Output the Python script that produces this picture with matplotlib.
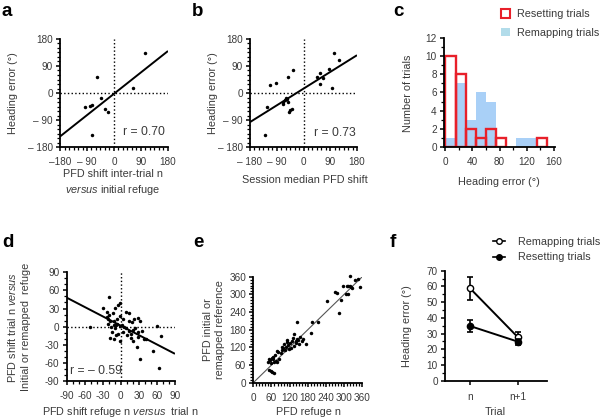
import matplotlib
matplotlib.use('Agg')
import matplotlib.pyplot as plt
from matplotlib.ticker import MultipleLocator
from matplotlib.patches import Patch
from matplotlib.lines import Line2D

plt.rcParams['font.family'] = ['Liberation Sans', 'DejaVu Sans']
plt.rcParams['mathtext.fontset'] = 'custom'
plt.rcParams['mathtext.rm'] = 'Liberation Sans'
plt.rcParams['mathtext.it'] = 'Liberation Sans:italic'
plt.rcParams['mathtext.bf'] = 'Liberation Sans:bold'

# ---------------- data ----------------
# panel a
a_x = [102, -58, 65, -43, -97, -81, -72, -31, -19, -74]
a_y = [133, 55, 18, -17, -45, -42, -41, -54, -64, -141]
a_fit_x = [-180, 180]
a_fit_y = [-145, 140]
a_r = "r = 0.70"

# panel b
b_x = [101, 118, -112, -93, -51, -34, 47, 55, 66, 57, 87, 97, -123, -128,
       -68, -62, -56, -70, -53, -45, -38, -50, -60]
b_y = [133, 109, 26, 34, 54, 76, 54, 67, 50, 29, 79, 18, -45, -141,
       -31, -23, -20, -38, -31, -55, -54, -64, -17]
b_fit_x = [-180, 180]
b_fit_y = [-97, 126]
b_r = "r = 0.73"

# panel c (histogram, 15 deg bins)
c_bin_left = [0, 15, 30, 45, 60, 75, 90, 105, 120, 135]
c_bin_width = 15
c_reset = [10, 8, 2, 1, 2, 1, 0, 0, 0, 1]
c_remap = [1, 7, 3, 6, 5, 0, 0, 1, 1, 0]

# panel d
d_x = [-19, -30, -51, -4, -1, -9, -13, -19, -23, -21, -18, -12, -7, -2, 4, 13,
       22, 28, 32, 14, 18, -12, -8, -6, -2, 2, 6, 9, 13, 17, 21, 24, 28, 35,
       29, 38, 41, 60, 66, 27, 32, 54, 64, -15, -8, -12, -18, -1, -4, -21, 4,
       10, 17, 20, -9, -17, -23, 8]
d_y = [49, 31, -1, 36, 39, 31, 23, 19, 16, 13, 9, 10, 13, 18, 13, 22,
       13, 14, 9, 10, 8, 3, 2, 4, 1, 2, -1, -3, -8, -12, -6, -2, -9, -8,
       -17, -21, -20, 1, -15, -33, -53, -40, -69, -9, -14, -20, -18, -23, -12, 5, -9,
       -14, -19, -23, -3, -1, 24, 24]
d_fit_x = [-90, 90]
d_fit_y = [48, -45]
d_r = "r = \u2013 0.59"

# panel e
e_x = [321, 336, 347, 352, 308, 313, 318, 322, 295, 269, 275, 242, 291, 284,
       215, 195, 190, 143, 134, 174, 154, 149, 141, 132, 129, 121, 116, 108,
       102, 110, 112, 99, 94, 96, 83, 77, 72, 66, 61, 55, 50, 52, 66, 57, 62,
       68, 52, 160, 150, 140, 125, 105, 90, 85, 75, 78, 60, 70, 165, 135, 145,
       118, 305, 312, 325]
e_y = [362, 349, 351, 326, 330, 328, 330, 326, 328, 307, 306, 278, 280, 238,
       207, 207, 168, 207, 166, 133, 156, 145, 143, 151, 143, 136, 128, 122,
       130, 145, 137, 117, 121, 111, 105, 108, 94, 88, 85, 77, 71, 79, 80, 40, 35,
       34, 43, 140, 130, 135, 118, 110, 100, 80, 75, 70, 68, 72, 150, 125, 150,
       115, 302, 302, 322]
e_diag = [0, 360]

# panel f
f_trials = ["n", "n+1"]
f_remap_mean = [58.8, 27.5]
f_remap_sem = [7.2, 3.5]
f_reset_mean = [34.8, 24.8]
f_reset_sem = [3.9, 2.0]

# ticks
ab_ticks = [-180, -90, 0, 90, 180]
a_xticklabels = ["\u2013180", "\u2013 90", "0", "90", "180"]
ab_yticklabels = ["\u2013 180", "\u2013 90", "0", "90", "180"]
b_xticklabels = ["\u2013 180", "\u2013 90", "0", "90", "180"]
d_ticks = [-90, -60, -30, 0, 30, 60, 90]
d_ticklabels = ["-90", "-60", "-30", "0", "30", "60", "90"]

# ---------------- figure ----------------
W, H = 601, 419
fig = plt.figure(figsize=(W / 100, H / 100), dpi=100)
TXT = '#3a3a3a'
RED = '#e8202a'
BLUE = '#a9d0f7'
LEG_BLUE = '#b2dcea'
LAB = 7.8
TICK = 7.2


def add_ax(l, t, r, b):
    return fig.add_axes([l / W, 1 - b / H, (r - l) / W, (b - t) / H])


def style(ax, xminor=None, yminor=None):
    for s in ['top', 'right']:
        ax.spines[s].set_visible(False)
    for s in ['left', 'bottom']:
        ax.spines[s].set_linewidth(1.3)
    ax.tick_params(which='major', length=3.2, width=1.1, direction='out',
                   labelsize=TICK, color='black', labelcolor=TXT, pad=2)
    ax.tick_params(which='minor', length=2.2, width=0.9, direction='out', color='black')
    if xminor:
        ax.xaxis.set_minor_locator(MultipleLocator(xminor))
    if yminor:
        ax.yaxis.set_minor_locator(MultipleLocator(yminor))


def ylab(ax, s, x_px, y_px, **kw):
    ax.set_ylabel(s, fontsize=LAB, color=TXT, va='center', ha='center', **kw)
    ax.yaxis.set_label_coords(x_px / W, 1 - y_px / H, transform=fig.transFigure)


def xlab(ax, s, x_px, y_px, **kw):
    ax.set_xlabel(s, fontsize=LAB, color=TXT, va='center', ha='center', **kw)
    ax.xaxis.set_label_coords(x_px / W, 1 - y_px / H, transform=fig.transFigure)


def scatter_panel(ax, xs, ys, fx, fy, lim):
    ax.axvline(0, color='black', ls=':', lw=1.0, zorder=1)
    ax.axhline(0, color='black', ls=':', lw=1.0, zorder=1)
    ax.plot(fx, fy, color='black', lw=1.4, zorder=2, solid_capstyle='butt')
    ax.plot(xs, ys, 'o', color='black', ms=2.5, mec='none', zorder=3)
    ax.set_xlim(-lim, lim)
    ax.set_ylim(-lim, lim)


# ---- a ----
ax = add_ax(60, 39, 168, 147)
scatter_panel(ax, a_x, a_y, a_fit_x, a_fit_y, 180)
style(ax, 15, 15)
ax.set_xticks(ab_ticks)
ax.set_xticklabels(a_xticklabels)
ax.set_yticks(ab_ticks)
ax.set_yticklabels(ab_yticklabels)
ax.tick_params(axis='x', pad=4)
ax.text(0.97, 0.14, a_r, transform=ax.transAxes, ha='right', va='center',
        fontsize=8.7, color=TXT)
ylab(ax, "Heading error (\u00b0)", 13, 93)
xlab(ax, "PFD shift inter-trial n\n$\\mathit{versus}$ initial refuge", 113, 183,
     linespacing=1.4)

# ---- b ----
ax = add_ax(250, 39, 357, 147)
scatter_panel(ax, b_x, b_y, b_fit_x, b_fit_y, 180)
style(ax, 15, 15)
ax.set_xticks(ab_ticks)
ax.set_xticklabels(b_xticklabels)
ax.set_yticks(ab_ticks)
ax.set_yticklabels(ab_yticklabels)
ax.tick_params(axis='x', pad=4)
ax.text(0.99, 0.127, b_r, transform=ax.transAxes, ha='right', va='center',
        fontsize=8.7, color=TXT)
ylab(ax, "Heading error (\u00b0)", 213, 93)
xlab(ax, "Session median PFD shift", 305, 180)

# ---- c ----
ax = add_ax(444, 38.3, 555, 146.7)
bl = [l for l, c in zip(c_bin_left, c_remap) if c > 0]
bc = [c for c in c_remap if c > 0]
ax.bar(bl, bc, width=c_bin_width, align='edge', color=BLUE, edgecolor='none', zorder=1)
rl = [l for l, c in zip(c_bin_left, c_reset) if c > 0]
rc = [c for c in c_reset if c > 0]
ax.bar(rl, rc, width=c_bin_width, align='edge', fill=False, edgecolor=RED,
       linewidth=1.7, zorder=2)
ax.set_xlim(-2, 162)
ax.set_ylim(0, 12)
style(ax, 20, 1)
ax.set_xticks([0, 40, 80, 120, 160])
ax.set_yticks([0, 2, 4, 6, 8, 10, 12])
ax.tick_params(axis='x', pad=4)
ylab(ax, "Number of trials", 408, 93)
xlab(ax, "Heading error (\u00b0)", 499, 182)
hc = [Patch(facecolor='white', edgecolor=RED, lw=1.5),
      Patch(facecolor=LEG_BLUE, edgecolor='none')]
fig.legend(hc, ["Resetting trials", "Remapping trials"], loc='upper left',
           bbox_to_anchor=(501 / W, 1 - 9 / H), frameon=False, fontsize=7.8,
           handlelength=0.85, handleheight=0.85, handletextpad=0.6,
           labelspacing=0.8, borderpad=0, borderaxespad=0, labelcolor=TXT)

# ---- d ----
ax = add_ax(66.7, 272.3, 175, 381)
scatter_panel(ax, d_x, d_y, d_fit_x, d_fit_y, 90)
style(ax, 10, 10)
ax.set_xticks(d_ticks)
ax.set_xticklabels(d_ticklabels)
ax.set_yticks(d_ticks)
ax.set_yticklabels(d_ticklabels)
ax.tick_params(axis='x', pad=4)
ax.text(0.035, 0.092, d_r, transform=ax.transAxes, ha='left', va='center',
        fontsize=8.7, color=TXT)
ylab(ax, "PFD shift trial n $\\mathit{versus}$\nInitial or remapped  refuge", 18.5, 327,
     linespacing=1.4)
xlab(ax, "PFD shift refuge n $\\mathit{versus}$  trial n", 120, 412)

# ---- e ----
ax = add_ax(253.3, 276.7, 362.3, 382.7)
ax.plot(e_diag, e_diag, color='#555555', lw=0.8, zorder=1)
ax.plot(e_x, e_y, 'o', color='black', ms=2.5, mec='none', zorder=3, clip_on=False)
ax.set_xlim(0, 360)
ax.set_ylim(0, 360)
style(ax, 10, 10)
ax.set_xticks([0, 60, 120, 180, 240, 300, 360])
ax.set_yticks([0, 60, 120, 180, 240, 300, 360])
ax.tick_params(axis='x', pad=4)
ylab(ax, "PFD initial or\nremapped reference", 214, 330, linespacing=1.25)
xlab(ax, "PFD refuge n", 308, 412)

# ---- f ----
ax = add_ax(445, 270.7, 547, 380.7)
xs = list(range(len(f_trials)))
ax.errorbar(xs, f_remap_mean, yerr=f_remap_sem, fmt='-o', color='black',
            mfc='white', mec='black', ms=4.5, lw=1.4, elinewidth=1.2, capsize=2,
            capthick=1.2, zorder=2)
ax.errorbar(xs, f_reset_mean, yerr=f_reset_sem, fmt='-o', color='black',
            mfc='black', mec='black', ms=4.5, lw=1.4, elinewidth=1.2, capsize=2,
            capthick=1.2, zorder=3)
ax.set_xlim(-0.52, 1.6)
ax.set_ylim(0, 70)
style(ax, None, 5)
ax.set_xticks(xs)
ax.set_xticklabels(f_trials)
ax.set_yticks(range(0, 71, 10))
ax.tick_params(axis='x', pad=5)
ylab(ax, "Heading error (\u00b0)", 407, 326)
xlab(ax, "Trial", 495, 412)
hf = [Line2D([], [], color='black', marker='o', mfc='white', mec='black', ms=4, lw=1.2),
      Line2D([], [], color='black', marker='o', mfc='black', mec='black', ms=4, lw=1.2)]
fig.legend(hf, ["Remapping trials", "Resetting trials"], loc='upper left',
           bbox_to_anchor=(493 / W, 1 - 237 / H), frameon=False, fontsize=7.8,
           handlelength=1.15, handletextpad=1.2, labelspacing=0.5,
           borderpad=0, borderaxespad=0, labelcolor=TXT)

# panel letters
for s, x, y in [("a", 2, 12), ("b", 192, 12), ("c", 393, 12),
                ("d", 2, 242), ("e", 193, 242), ("f", 390, 242)]:
    fig.text(x / W, 1 - y / H, s, fontsize=13.5, fontweight='bold', ha='left',
             va='center', color='black')

fig.savefig('out.png', dpi=100)
